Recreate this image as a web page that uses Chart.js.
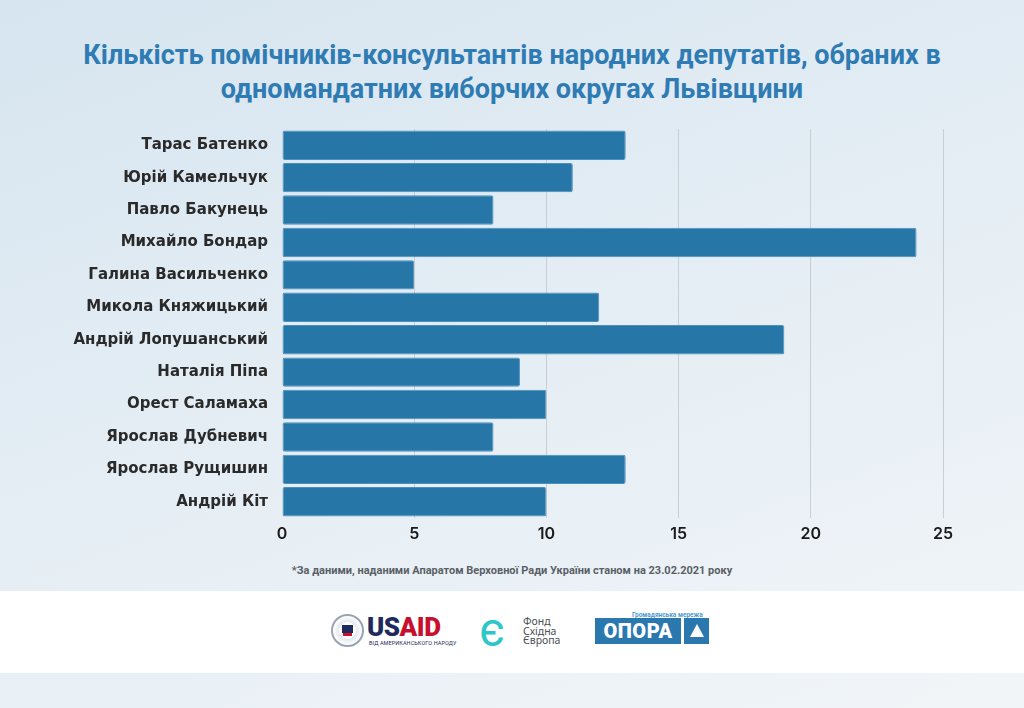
<!DOCTYPE html>
<html lang="uk">
<head>
<meta charset="utf-8">
<script src="https://cdn.jsdelivr.net/npm/chart.js@4.4.1/dist/chart.umd.min.js"></script>
<style>
    html, body { margin: 0; padding: 0; }
    body {
        width: 1024px;
        height: 708px;
        position: relative;
        overflow: hidden;
        background: linear-gradient(160deg, #d6e5f0 0%, #e4edf4 45%, #f1f5f8 100%);
        font-family: "Inter", "Noto Sans", sans-serif;
    }
    #title {
        position: absolute;
        left: 0; top: 38px; width: 1024px;
        text-align: center;
        font-family: "Roboto", sans-serif;
        font-weight: 700;
        font-size: 27px;
        line-height: 34px;
        color: #2f7bb3;
    }
    #chart-box {
        position: absolute;
        left: 0; top: 106px;
        width: 1024px; height: 452px;
    }
    #note {
        position: absolute;
        left: 0; top: 564px; width: 1024px;
        text-align: center;
        font-family: "Roboto", sans-serif;
        font-weight: 700;
        font-size: 11px;
        color: #5a5f66;
    }
    #logos {
        position: absolute;
        left: 0; top: 591px;
        width: 1024px; height: 82px;
        background: #ffffff;
    }
    .seal {
        position: absolute; left: 331px; top: 23px;
        width: 33px; height: 33px; border-radius: 50%;
        border: 2px solid #9aa3b5; box-sizing: border-box;
        background: radial-gradient(circle, #ffffff 40%, #e3e6ee 41%, #ffffff 70%);
    }
    .seal::after {
        content: ""; position: absolute; left: 9px; top: 9px;
        width: 11px; height: 8px; background: #1c2a5e;
        box-shadow: 0 4px 0 -1px #c8102e;
    }
    .usaid {
        position: absolute; left: 367px; top: 24px;
        font-family: "Roboto", sans-serif; font-weight: 900;
        font-size: 26px; line-height: 24px; letter-spacing: -0.5px;
    }
    .usaid .us { color: #1c2a5e; }
    .usaid .aid { color: #c8102e; }
    .usaid-sub {
        position: absolute; left: 369px; top: 49px;
        font-family: "Roboto", sans-serif; font-size: 5.5px;
        color: #1c2a5e; letter-spacing: 0.1px;
    }
    .ef {
        position: absolute; left: 479px; top: 22px;
        width: 32px; height: 34px;
        font-family: "Roboto", sans-serif; font-weight: 400;
        font-size: 48px; line-height: 34px; color: #2ec6c8;
    }
    .ef-text {
        position: absolute; left: 523px; top: 26px;
        font-family: "Noto Sans", sans-serif; font-size: 10.5px;
        line-height: 9.5px; color: #4a4f55;
    }
    .opora-top {
        position: absolute; left: 632px; top: 20px;
        font-family: "Roboto", sans-serif; font-weight: 700;
        font-size: 6.5px; color: #4a9ad0;
    }
    .opora {
        position: absolute; left: 595px; top: 27px;
        width: 86px; height: 26px; background: #2a78ad;
        color: #ffffff; text-align: center;
        font-family: "Roboto", sans-serif; font-weight: 900;
        font-size: 20px; line-height: 27px; letter-spacing: 0.5px;
    }
    .opora-tri {
        position: absolute; left: 684px; top: 27px;
        width: 25px; height: 26px; background: #2a78ad;
    }
    .opora-tri::after {
        content: ""; position: absolute; left: 6px; top: 6px;
        border-left: 7px solid transparent; border-right: 7px solid transparent;
        border-bottom: 13px solid #ffffff;
    }
</style>
</head>
<body>
<div id="title">Кількість помічників-консультантів народних депутатів, обраних в<br>одномандатних виборчих округах Львівщини</div>
<div id="chart-box"><canvas id="deputies-chart"></canvas></div>
<div id="note">*За даними, наданими Апаратом Верховної Ради України станом на 23.02.2021 року</div>
<div id="logos">
    <div class="seal"></div>
    <div class="usaid"><span class="us">US</span><span class="aid">AID</span></div>
    <div class="usaid-sub">ВІД АМЕРИКАНСЬКОГО НАРОДУ</div>
    <div class="ef">є</div>
    <div class="ef-text">Фонд<br>Східна<br>Європа</div>
    <div class="opora-top">Громадянська мережа</div>
    <div class="opora">ОПОРА</div>
    <div class="opora-tri"></div>
</div>

<script>
const deputies = [
    'Тарас Батенко',
    'Юрій Камельчук',
    'Павло Бакунець',
    'Михайло Бондар',
    'Галина Васильченко',
    'Микола Княжицький',
    'Андрій Лопушанський',
    'Наталія Піпа',
    'Орест Саламаха',
    'Ярослав Дубневич',
    'Ярослав Рущишин',
    'Андрій Кіт'
];
const assistants = [13, 11, 8, 24, 5, 12, 19, 9, 10, 8, 13, 10];
const xTicks = [0, 5, 10, 15, 20, 25];

const ctx = document.getElementById('deputies-chart').getContext('2d');

const chart = new Chart(ctx, {
    type: 'bar',
    data: {
        labels: deputies,
        datasets: [{
            label: 'Помічники-консультанти',
            data: assistants,
            backgroundColor: '#2676a8',
            borderColor: '#4b8fbd',
            borderWidth: 1,
            borderRadius: 2,
            borderSkipped: false,
            categoryPercentage: 1,
            barPercentage: 0.905
        }]
    },
    options: {
        indexAxis: 'y',
        responsive: true,
        maintainAspectRatio: false,
        animation: false,
        layout: { padding: { top: 0, right: 81, bottom: 0, left: 0 } },
        plugins: {
            legend: { display: false },
            tooltip: { enabled: false }
        },
        scales: {
            x: {
                min: 0,
                max: 25,
                afterBuildTicks: (scale) => {
                    scale.ticks = xTicks.map(v => ({ value: v }));
                },
                afterFit: (scale) => { scale.height = 40; },
                grid: {
                    color: (c) => c.tick && c.tick.value === 0 ? 'rgba(0,0,0,0)' : '#c9ced3',
                    lineWidth: 1,
                    drawTicks: false
                },
                border: { display: false },
                ticks: {
                    padding: 7,
                    color: '#1a1a1a',
                    font: { family: 'Inter', size: 16, weight: '600' }
                }
            },
            y: {
                afterFit: (scale) => { scale.width = 282; },
                grid: { display: false, drawTicks: false },
                border: { display: false },
                ticks: {
                    padding: 14,
                    color: '#2a2a2a',
                    font: { family: 'DejaVu Sans', size: 15, weight: 'bold' }
                }
            }
        }
    }
});
</script>
</body>
</html>
